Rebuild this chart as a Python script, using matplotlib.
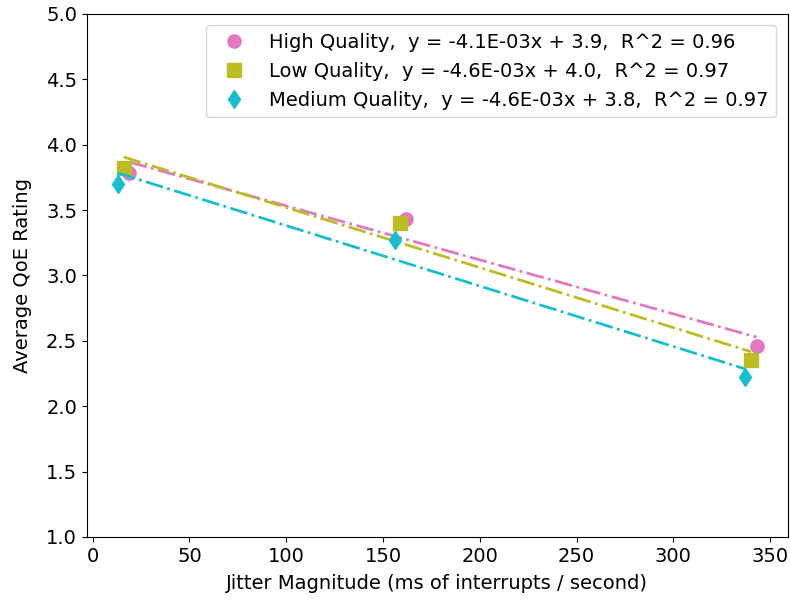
import numpy as np
import matplotlib.pyplot as plt

# data
high_x = [19, 162, 343]
high_y = [3.78, 3.43, 2.46]
low_x = [16, 159, 340]
low_y = [3.82, 3.40, 2.35]
med_x = [13, 156, 337]
med_y = [3.70, 3.27, 2.22]

labels = ['High Quality,  y = -4.1E-03x + 3.9,  R^2 = 0.96',
          'Low Quality,  y = -4.6E-03x + 4.0,  R^2 = 0.97',
          'Medium Quality,  y = -4.6E-03x + 3.8,  R^2 = 0.97']

series = [(high_x, high_y, 'tab:pink', 'o'),
          (low_x, low_y, 'tab:olive', 's'),
          (med_x, med_y, 'tab:cyan', 'd')]

fig, ax = plt.subplots(figsize=(7.9, 6), dpi=100)
fig.subplots_adjust(left=0.11, right=0.997, top=0.977, bottom=0.105)

for (x, y, c, m), lab in zip(series, labels):
    ax.plot(x, y, linestyle='none', marker=m, color=c, markersize=9.5, label=lab)
    k, b = np.polyfit(x, y, 1)
    xs = np.array([min(x), max(x)])
    ax.plot(xs, k * xs + b, linestyle='-.', color=c, linewidth=2)

ax.set_xlim(-3, 359)
ax.set_ylim(1.0, 5.0)
ax.set_xlabel('Jitter Magnitude (ms of interrupts / second)', fontsize=14, labelpad=6)
ax.set_ylabel('Average QoE Rating', fontsize=14, labelpad=10)
ax.tick_params(labelsize=14)
ax.legend(fontsize=14, loc='upper right', borderaxespad=0.6)

plt.savefig('out.png')
